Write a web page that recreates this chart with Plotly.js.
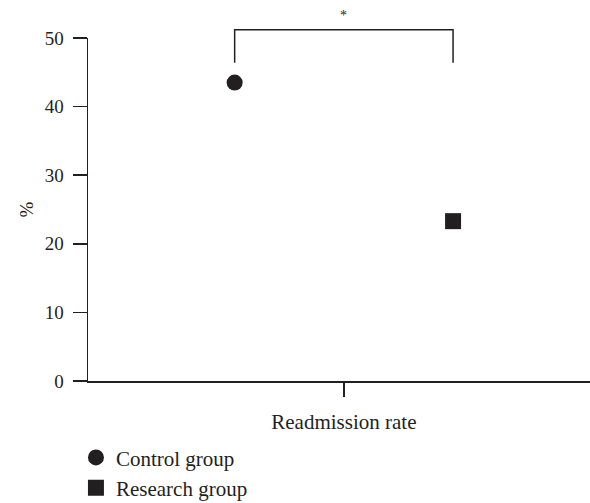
<!DOCTYPE html>
<html>
<head>
<meta charset="utf-8">
<script src="https://cdn.plot.ly/plotly-3.0.1.min.js"></script>
<style>html,body{margin:0;padding:0;background:#fff;}#chart{width:590px;height:503px;}</style>
</head>
<body>
<div id="chart"></div>
<script>
// ---- data ----
const categories = ["Readmission rate"];
const groups = ["Control group", "Research group"];
const groupValues = [43.5, 23.3];
const groupSymbols = ["circle", "square"];
const yTickVals = [0, 10, 20, 30, 40, 50];
const yTickText = ["0", "10", "20", "30", "40", "50"];
const significance = "*";

// ---- layout helpers ----
const ink = "#231f20";
const serif = "Liberation Serif, Times New Roman, serif";
const yMin = 0, yMax = 50;
const groupX = [-1, 1];           // dodge positions around the category
const bracketTop = 51.2, bracketBottom = 46.4, starLevel = 54.6;
const toPaperY = v => (v - yMin) / (yMax - yMin);

const traces = groups.map((g, i) => ({
  type: "scatter",
  mode: "markers",
  name: g,
  x: [groupX[i]],
  y: [groupValues[i]],
  cliponaxis: false,
  marker: { symbol: groupSymbols[i], size: 16, color: ink, line: { width: 0 } },
  hoverinfo: "skip"
}));

const layout = {
  width: 590, height: 503,
  margin: { l: 88, r: 0, t: 38, b: 122, autoexpand: false },
  paper_bgcolor: "#fff", plot_bgcolor: "#fff",
  showlegend: true,
  font: { family: serif, color: ink, size: 18 },
  legend: {
    x: -0.024, y: -0.371, xanchor: "left", yanchor: "bottom",
    orientation: "v",
    font: { family: serif, size: 21, color: ink },
    itemclick: false, tracegroupgap: 0,
    bgcolor: "rgba(0,0,0,0)"
  },
  xaxis: {
    range: [-2.343, 2.254],
    tickmode: "array", tickvals: [0], ticktext: categories,
    ticks: "outside", ticklen: 14, tickwidth: 1.5, tickcolor: ink,
    ticklabelstandoff: 7,
    tickfont: { family: serif, size: 21, color: ink },
    showline: true, linecolor: ink, linewidth: 1.5,
    showgrid: false, zeroline: false, fixedrange: true
  },
  yaxis: {
    range: [yMin, yMax],
    tickmode: "array", tickvals: yTickVals, ticktext: yTickText,
    ticks: "outside", ticklen: 14, tickwidth: 1.5, tickcolor: ink,
    ticklabelstandoff: 5,
    tickfont: { family: serif, size: 19, color: ink },
    title: { text: "%", font: { family: serif, size: 19, color: ink }, standoff: 6 },
    showline: true, linecolor: ink, linewidth: 1.5,
    showgrid: false, zeroline: false, fixedrange: true
  },
  shapes: [{
    type: "path", xref: "x", yref: "paper",
    path: `M ${groupX[0]} ${toPaperY(bracketBottom)} L ${groupX[0]} ${toPaperY(bracketTop)} L ${groupX[1]} ${toPaperY(bracketTop)} L ${groupX[1]} ${toPaperY(bracketBottom)}`,
    line: { color: ink, width: 1.5 }
  }],
  annotations: [{
    xref: "x", yref: "paper",
    x: (groupX[0] + groupX[1]) / 2, y: toPaperY(starLevel),
    text: significance, showarrow: false,
    font: { family: serif, size: 14, color: ink }
  }]
};

Plotly.newPlot("chart", traces, layout, { displayModeBar: false, staticPlot: true });
</script>
</body>
</html>
